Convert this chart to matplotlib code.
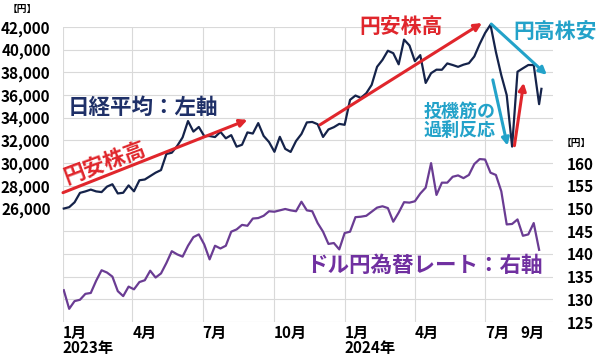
import numpy as np
import pandas as pd
import matplotlib
matplotlib.use('Agg')
import matplotlib.pyplot as plt
import matplotlib.dates as mdates
from matplotlib.ticker import FuncFormatter

plt.rcParams['font.family'] = ['Noto Sans CJK JP', 'DejaVu Sans']
plt.rcParams['font.weight'] = 'bold'

# weekly points, dated by the Monday of each week
weeks = pd.date_range('2023-01-02', '2024-09-09', freq='W-MON')

nikkei = [26000, 26120, 26550, 27380, 27510, 27670, 27510, 27450, 27930, 28140,
          27330, 27390, 28040, 27520, 28490, 28560, 28860, 29160, 29390, 30810,
          30920, 31520, 32270, 33710, 32780, 33190, 32390, 32390, 32300, 32760,
          32190, 32470, 31450, 31620, 32710, 32610, 33530, 32400, 31860, 31000,
          32320, 31260, 30990, 31950, 32570, 33590, 33630, 33430, 32310, 32970,
          33170, 33460, 33380, 35580, 35960, 35750, 36160, 36900, 38490, 39100,
          39910, 39690, 38710, 40890, 40370, 38990, 39520, 37070, 37930, 38240,
          38230, 38790, 38650, 38490, 38680, 38810, 39400, 40500, 41470, 42200,
          39800, 37750, 36000, 31460, 38060, 38360, 38650, 38650, 35200]
# one extra point after the last week
nikkei_end_date = '2024-09-12'
nikkei_end = 36550

usdjpy = [132.0, 127.9, 129.6, 129.9, 131.2, 131.4, 134.1, 136.4, 135.9, 135.0,
          131.8, 130.7, 132.8, 132.2, 133.8, 134.2, 136.3, 134.8, 135.7, 138.0,
          140.6, 139.9, 139.4, 141.8, 143.7, 144.3, 142.1, 138.8, 141.8, 141.2,
          141.8, 144.9, 145.4, 146.4, 146.2, 147.8, 147.9, 148.4, 149.4, 149.3,
          149.6, 149.9, 149.6, 149.4, 151.5, 149.6, 149.4, 146.8, 144.9, 142.2,
          142.4, 141.0, 144.6, 144.9, 148.1, 148.2, 148.4, 149.3, 150.2, 150.5,
          150.1, 147.1, 149.1, 151.4, 151.3, 151.6, 153.3, 154.6, 160.0, 153.0,
          155.7, 155.7, 157.0, 157.3, 156.7, 157.4, 159.8, 160.9, 160.8, 157.9,
          157.4, 153.8, 146.5, 146.6, 147.6, 144.0, 144.3, 146.8, 140.9]

quarter_lines = ['2023-01-01', '2023-04-01', '2023-07-01', '2023-10-01',
                 '2024-01-01', '2024-04-01', '2024-07-01']
tick_dates = ['2023-01-01', '2023-04-01', '2023-07-01', '2023-10-01',
              '2024-01-01', '2024-04-01', '2024-07-01', '2024-08-16']
tick_labels = ['1月\n2023年', '4月', '7月', '10月', '1月\n2024年', '4月', '7月', '9月']

RED = '#e0262c'
TEAL = '#23a2c9'
NAVY = '#15234a'
PURPLE = '#6a3c93'

def d(s):
    return mdates.date2num(pd.Timestamp(s))

fig = plt.figure(figsize=(6, 3.58), dpi=100)
ax = fig.add_axes([63 / 600, 36 / 358, 490 / 600, 295 / 358])
ax2 = ax.twinx()

nk_x = list(weeks) + [pd.Timestamp(nikkei_end_date)]
nk_y = nikkei + [nikkei_end]
ax.plot(nk_x, nk_y, color=NAVY, lw=1.6, clip_on=False, zorder=3)
ax2.plot(weeks, usdjpy, color=PURPLE, lw=1.6, zorder=3)

ax.set_xlim(d('2023-01-01'), d('2024-09-27'))
ax.set_ylim(16000, 42000)
ax2.set_ylim(125, 190)

ax.set_yticks(np.arange(16000, 42001, 2000))
ax.yaxis.set_major_formatter(FuncFormatter(lambda v, p: f'{int(v):,}' if v >= 26000 else ''))
ax2.set_yticks(np.arange(125, 191, 5))
ax2.yaxis.set_major_formatter(FuncFormatter(lambda v, p: f'{int(v)}' if v <= 160 else ''))

ax.grid(axis='y', color='#d9d9d9', lw=0.8)
for q in quarter_lines:
    ax.axvline(d(q), color='#d9d9d9', lw=0.8, zorder=0)

ax.set_xticks([d(t) for t in tick_dates])
ax.set_xticklabels(tick_labels, ha='left', linespacing=0.92)

ax.tick_params(axis='y', length=0, pad=9, labelsize=11)
ax.tick_params(axis='x', length=0, pad=2, labelsize=11)
ax2.tick_params(axis='y', length=0, pad=10, labelsize=11)
for a in (ax, ax2):
    for s in a.spines.values():
        s.set_visible(False)

fig.text(22 / 600, 1 - 9 / 358, '【円】', fontsize=7, ha='center', va='center')
fig.text(576 / 600, 1 - 143 / 358, '【円】', fontsize=7, ha='center', va='center')

def arrow(a, b, color):
    ax.annotate('', xy=(d(b[0]), b[1]), xytext=(d(a[0]), a[1]),
                arrowprops=dict(arrowstyle='-|>', color=color, lw=2.2, mutation_scale=11,
                                shrinkA=0, shrinkB=0),
                annotation_clip=False, zorder=4)

arrow(('2023-01-01', 27400), ('2023-08-28', 33820), RED)
arrow(('2023-11-30', 33380), ('2024-06-27', 42350), RED)
arrow(('2024-07-09', 42260), ('2024-09-19', 37780), TEAL)
arrow(('2024-07-11', 37340), ('2024-07-30', 31540), TEAL)
arrow(('2024-08-08', 31540), ('2024-08-20', 37080), RED)

ax.text(d('2023-02-24'), 30000, '円安株高', color=RED, fontsize=15.5, rotation=20.5,
        ha='center', va='center', rotation_mode='anchor')
ax.text(d('2024-03-14'), 42090, '円安株高', color=RED, fontsize=15, ha='center', va='center')
ax.text(d('2024-09-30'), 41650, '円高株安', color=TEAL, fontsize=15, ha='center', va='center')
ax.text(d('2024-05-29'), 33740, '投機筋の\n過剰反応', color=TEAL, fontsize=13,
        ha='center', va='center', linespacing=1.0)
ax.text(d('2023-01-07'), 34900, '日経平均：左軸', color='#1f3068', fontsize=15.5,
        ha='left', va='center')
ax2.text(d('2023-11-12'), 137.4, 'ドル円為替レート：右軸', color='#7030a0', fontsize=15.5,
         ha='left', va='center')

fig.savefig('out.png', dpi=100)
